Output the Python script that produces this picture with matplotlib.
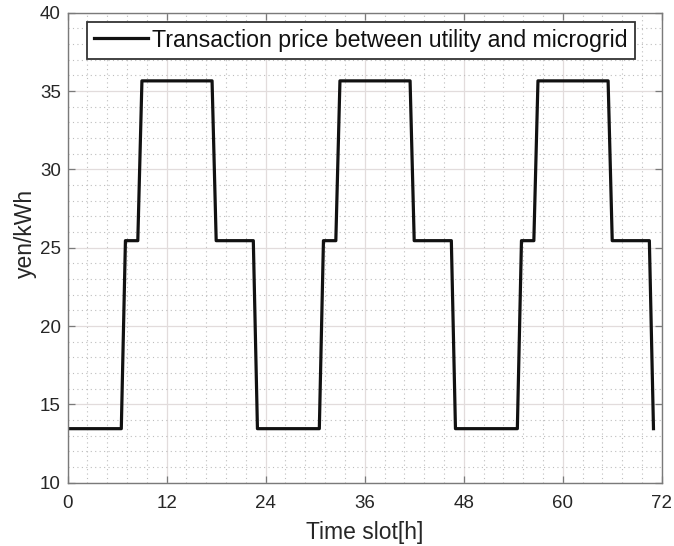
import numpy as np
import matplotlib.pyplot as plt
from matplotlib.ticker import MultipleLocator

plt.rcParams['font.family'] = ['Liberation Sans', 'DejaVu Sans']

# corner points of the price profile over three days
hours = [0, 6.5, 7, 8.5, 9, 17.5, 18, 22.5, 23,
         30.5, 31, 32.5, 33, 41.5, 42, 46.5, 47,
         54.5, 55, 56.5, 57, 65.5, 66, 70.5, 71]
price = [13.45, 13.45, 25.45, 25.45, 35.65, 35.65, 25.45, 25.45, 13.45,
         13.45, 25.45, 25.45, 35.65, 35.65, 25.45, 25.45, 13.45,
         13.45, 25.45, 25.45, 35.65, 35.65, 25.45, 25.45, 13.45]

xticks = [0, 12, 24, 36, 48, 60, 72]
yticks = [10, 15, 20, 25, 30, 35, 40]

fig = plt.figure(figsize=(6.74, 5.46), dpi=100)
ax = fig.add_axes([0.1004, 0.1159, 0.8814, 0.8608])

ax.plot(hours, price, color='#111111', lw=2.3,
        label='Transaction price between utility and microgrid')

ax.set_xlim(0, 72)
ax.set_ylim(10, 40)
ax.set_xticks(xticks)
ax.set_yticks(yticks)
ax.xaxis.set_minor_locator(MultipleLocator(2.4))
ax.yaxis.set_minor_locator(MultipleLocator(1))

ax.grid(which='major', color='#e2dcdc', lw=0.9, ls='-')
ax.grid(which='minor', color='#bdbdbd', lw=0.8, ls=(0, (1, 3)))
ax.set_axisbelow(True)

for s in ax.spines.values():
    s.set_color('#7a7a7a')
    s.set_linewidth(1.0)

ax.tick_params(which='major', direction='in', length=5, width=0.9,
               colors='#7a7a7a', top=True, right=True, labelsize=13.5,
               labelcolor='#262626')
ax.tick_params(axis='x', which='major', pad=9)
ax.tick_params(axis='y', which='major', pad=5)
ax.tick_params(which='minor', length=0)

ax.set_xlabel('Time slot[h]', fontsize=16.5, color='#262626', labelpad=6)
ax.set_ylabel('yen/kWh', fontsize=16.5, color='#262626')
ax.yaxis.set_label_coords(-0.052, 0.53)

leg = ax.legend(loc='upper left', bbox_to_anchor=(0.033, 0.981),
                borderaxespad=0, fontsize=16.7, handlelength=2.3,
                handletextpad=0.2, borderpad=0.3, fancybox=False,
                framealpha=1, edgecolor='#333333')
leg.get_frame().set_linewidth(1.3)
for t in leg.get_texts():
    t.set_color('#111111')

fig.savefig('out.png', dpi=100)
